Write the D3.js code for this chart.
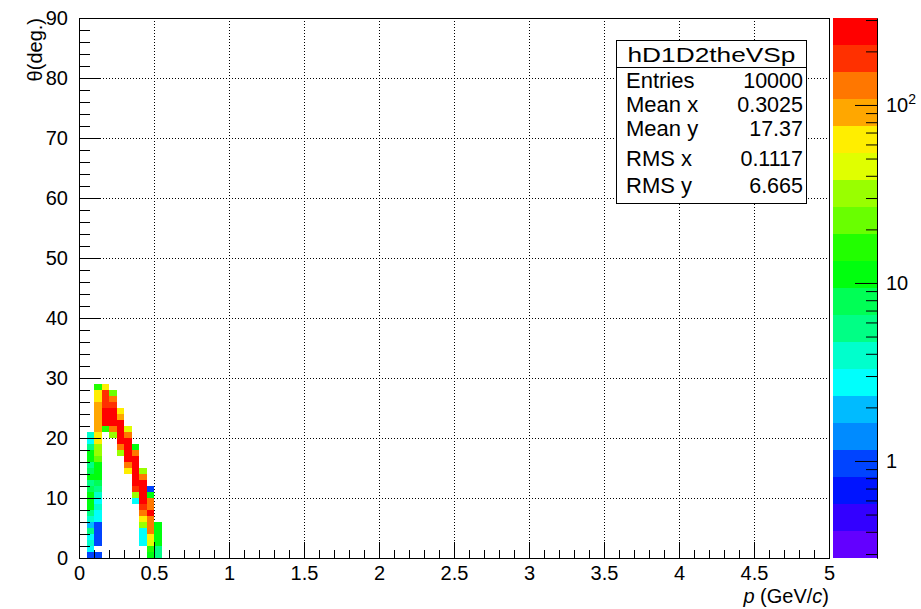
<!DOCTYPE html>
<html>
<head>
<meta charset="utf-8">
<script src="https://cdn.jsdelivr.net/npm/d3@7"></script>
<style>
  body { margin: 0; background: #fff; }
  text { font-family: "Liberation Sans", Arial, sans-serif; }
</style>
</head>
<body>
<svg id="chart"></svg>
<script>
// hD1D2theVSp : theta (deg) vs p (GeV/c), COLZ with log z

// x bins are 0.05 GeV/c wide, y bins 1 degree
const pLow = [0.05, 0.10, 0.15, 0.20, 0.25, 0.30, 0.35, 0.40, 0.45, 0.50];
const thetaFirst = [0, 0, 21, 20, 17, 14, 9, 2, 0, 0];   // lowest theta bin of each p column

// counts per p column, from thetaFirst upward
const col005 = [1, 3, 4, 3, 5, 2, 4, 5, 11, 11, 11, 8, 6, 11, 7, 6, 11, 11, 5, 3, 4];
const col010 = [1, 0, 1, 1, 1, 1, 3, 3, 4, 3, 4, 5, 8, 11, 11, 11, 20, 30, 35, 60, 65, 90, 100, 95, 90, 100, 70, 60, 16];
const col015 = [16, 260, 250, 240, 200, 190, 180, 60];
const col020 = [30, 130, 250, 260, 240, 210, 140, 24];
const col025 = [30, 130, 250, 260, 240, 230, 100, 60];
const col030 = [60, 120, 240, 250, 260, 240, 140, 50];
const col035 = [3, 32, 180, 240, 250, 240, 230, 240, 130, 12];
const col040 = [3, 3, 3, 30, 60, 120, 170, 230, 250, 240, 230, 130, 30];
const col045 = [11, 17, 45, 60, 120, 130, 125, 230, 140, 120, 12, 1];
const col050 = [6, 5, 11, 12, 11, 10];

const xTicks = [0, 0.5, 1, 1.5, 2, 2.5, 3, 3.5, 4, 4.5, 5];
const yTicks = [0, 10, 20, 30, 40, 50, 60, 70, 80, 90];
const zTicks = [1, 10, 100];
const zRange = [0.285, 308];

const statLabels = ["Entries", "Mean x", "Mean y", "RMS x", "RMS y"];
const statValues = ["10000", "0.3025", "17.37", "0.1117", "6.665"];

const columns = [col005, col010, col015, col020, col025, col030, col035, col040, col045, col050];
const cells = [];
columns.forEach((col, i) => {
  col.forEach((c, j) => {
    if (c > 0) cells.push({p: pLow[i], th: thetaFirst[i] + j, n: c});
  });
});

const W = 921, H = 609;
const fr = {l: 79, r: 829, t: 18, b: 558};
const nBands = 20;

const svg = d3.select("#chart").attr("width", W).attr("height", H);

const x = d3.scaleLinear().domain([0, 5]).range([fr.l, fr.r]);
const y = d3.scaleLinear().domain([0, 90]).range([fr.b, fr.t]);
const z = d3.scaleLog().domain(zRange).range([fr.b, fr.t]);
const band = d3.scaleLinear().domain([0, nBands]).range([fr.b, fr.t]);

// ROOT "pretty" palette (50 colours) sampled on 20 contour levels
function bandColor(b) {
  const idx = Math.floor((b + 0.99) * 50 / nBands);
  const hue = 280 - (idx + 1) * 5.6;
  return d3.hsl(hue, 1, 0.5).formatHex();
}
const lz0 = Math.log10(zRange[0]), lz1 = Math.log10(zRange[1]);
function countBand(n) {
  const b = Math.floor((Math.log10(n) - lz0) / (lz1 - lz0) * nBands);
  return Math.max(0, Math.min(nBands - 1, b));
}

// grid
const grid = svg.append("g").attr("stroke", "#000").attr("stroke-width", 1).attr("stroke-dasharray", "1,2");
grid.selectAll(".gx").data(xTicks.slice(1, -1)).enter().append("line")
  .attr("x1", d => Math.round(x(d)) + 0.5).attr("x2", d => Math.round(x(d)) + 0.5)
  .attr("y1", fr.t).attr("y2", fr.b);
grid.selectAll(".gy").data(yTicks.slice(1, -1)).enter().append("line")
  .attr("y1", d => Math.round(y(d)) + 0.5).attr("y2", d => Math.round(y(d)) + 0.5)
  .attr("x1", fr.l).attr("x2", fr.r);

// cells
svg.append("g").selectAll("rect").data(cells).enter().append("rect")
  .attr("x", d => x(d.p))
  .attr("y", d => y(d.th + 1))
  .attr("width", d => x(d.p + 0.05) - x(d.p))
  .attr("height", d => y(d.th) - y(d.th + 1))
  .attr("fill", d => bandColor(countBand(d.n)))
  .attr("shape-rendering", "crispEdges");

// axes (ROOT style: ticks inside the frame)
const xMinor = d3.range(0, 5.0001, 0.1).filter(v => Math.abs(v * 2 - Math.round(v * 2)) > 1e-6);
const yMinor = d3.range(0, 90.001, 2).filter(v => v % 10 !== 0);

svg.append("g").attr("transform", `translate(0,${fr.b})`)
  .call(d3.axisBottom(x).tickValues(xTicks).tickFormat(d3.format("")).tickSize(-16).tickSizeOuter(0).tickPadding(8));
svg.append("g").attr("transform", `translate(0,${fr.b})`)
  .call(d3.axisBottom(x).tickValues(xMinor).tickFormat("").tickSize(-8).tickSizeOuter(0));

svg.append("g").attr("transform", `translate(${fr.l},0)`)
  .call(d3.axisLeft(y).tickValues(yTicks).tickSize(-22).tickSizeOuter(0).tickPadding(11));
svg.append("g").attr("transform", `translate(${fr.l},0)`)
  .call(d3.axisLeft(y).tickValues(yMinor).tickFormat("").tickSize(-11).tickSizeOuter(0));

// frame
svg.append("rect").attr("x", fr.l + 0.5).attr("y", fr.t + 0.5)
  .attr("width", fr.r - fr.l).attr("height", fr.b - fr.t)
  .attr("fill", "none").attr("stroke", "#000");

// axis titles
const xt = svg.append("text").attr("x", fr.r).attr("y", 603).attr("text-anchor", "end").attr("font-size", 20);
xt.append("tspan").attr("font-style", "italic").text("p");
xt.append("tspan").text(" (GeV/");
xt.append("tspan").attr("font-style", "italic").text("c");
xt.append("tspan").text(")");

svg.append("text").attr("transform", `translate(42,${fr.t}) rotate(-90)`)
  .attr("text-anchor", "end").attr("font-size", 20).text("θ(deg.)");

// palette
const palLeft = 833, palRight = 877;
svg.append("g").selectAll("rect").data(d3.range(nBands)).enter().append("rect")
  .attr("x", palLeft).attr("width", palRight - palLeft)
  .attr("y", b => band(b + 1)).attr("height", b => band(b) - band(b + 1))
  .attr("fill", b => bandColor(b)).attr("shape-rendering", "crispEdges");

const zMinor = [];
[0.1, 1, 10, 100].forEach(dec => {
  for (let m = 2; m <= 9; m++) {
    const v = m * dec;
    if (v >= zRange[0] && v <= zRange[1]) zMinor.push(v);
  }
});
svg.append("g").attr("transform", `translate(${palRight},0)`)
  .call(d3.axisLeft(z).tickValues(zMinor).tickFormat("").tickSize(11).tickSizeOuter(0));
svg.append("g").attr("transform", `translate(${palRight},0)`)
  .call(d3.axisLeft(z).tickValues(zTicks).tickFormat("").tickSize(22).tickSizeOuter(0));

svg.selectAll(".tick text").attr("font-size", 20).attr("fill", "#000")
  .style("font-family", '"Liberation Sans", Arial, sans-serif');
svg.selectAll(".tick line").attr("stroke", "#000");
svg.selectAll(".domain").attr("stroke", "#000");

const zl = svg.append("g").selectAll("text").data(zTicks).enter().append("text")
  .attr("x", 886).attr("y", d => z(d) + 7).attr("font-size", 20);
zl.append("tspan").text(d => d === 100 ? "10" : String(d));
zl.filter(d => d === 100).append("tspan").attr("font-size", 14).attr("dy", -8).text("2");

// stats box
const sb = {x: 616.5, y: 40.5, w: 190, h: 163, head: 27};
svg.append("rect").attr("x", sb.x).attr("y", sb.y).attr("width", sb.w).attr("height", sb.h)
  .attr("fill", "#fff").attr("stroke", "#000");
svg.append("line").attr("x1", sb.x).attr("x2", sb.x + sb.w)
  .attr("y1", sb.y + sb.head).attr("y2", sb.y + sb.head).attr("stroke", "#000");
svg.append("text").attr("x", sb.x + sb.w / 2).attr("y", sb.y + 21).attr("text-anchor", "middle")
  .attr("font-size", 21).attr("textLength", 168).attr("lengthAdjust", "spacingAndGlyphs")
  .text("hD1D2theVSp");
const rowY = [88, 112, 136, 166, 193];
svg.append("g").selectAll("text").data(statLabels).enter().append("text")
  .attr("x", 626).attr("y", (d, i) => rowY[i]).attr("font-size", 22).text(d => d);
svg.append("g").selectAll("text").data(statValues).enter().append("text")
  .attr("x", 803).attr("y", (d, i) => rowY[i]).attr("text-anchor", "end").attr("font-size", 21.5).text(d => d);
</script>
</body>
</html>
